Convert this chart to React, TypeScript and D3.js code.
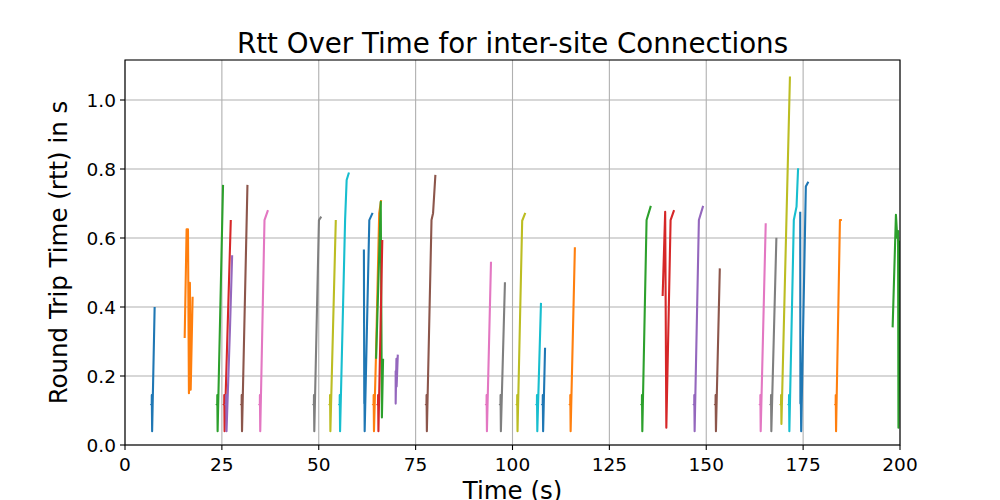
import React from "react";
import * as d3 from "d3";

const title = "Rtt Over Time for inter-site Connections";
const xLabel = "Time (s)";
const yLabel = "Round Trip Time (rtt) in s";
const xTicks = [0, 25, 50, 75, 100, 125, 150, 175, 200];
const yTicks = [0.0, 0.2, 0.4, 0.6, 0.8, 1.0];
const palette = ["#1f77b4", "#ff7f0e", "#2ca02c", "#d62728", "#9467bd", "#8c564b", "#e377c2", "#7f7f7f", "#bcbd22", "#17becf"];

// each connection: [time (s), rtt (s)] samples, in plotting order
const connections: number[][][] = [
  [[6.6, 0.115], [6.9, 0.118], [6.92, 0.145], [7.0, 0.04], [7.65, 0.4]],
  [[15.4, 0.31], [15.9, 0.625], [16.25, 0.625], [16.5, 0.15], [16.75, 0.47], [16.95, 0.16], [17.45, 0.43]],
  [[23.5, 0.115], [23.8, 0.118], [23.82, 0.145], [23.9, 0.04], [25.3, 0.754]],
  [[25.3, 0.115], [25.6, 0.118], [25.62, 0.145], [25.7, 0.04], [27.3, 0.652]],
  [[25.8, 0.115], [26.1, 0.118], [26.12, 0.145], [26.2, 0.04], [27.1, 0.34], [27.65, 0.55]],
  [[29.8, 0.115], [30.1, 0.118], [30.12, 0.145], [30.2, 0.04], [31.6, 0.754]],
  [[34.5, 0.115], [34.8, 0.118], [34.82, 0.145], [34.9, 0.04], [36.0, 0.652], [36.9, 0.681]],
  [[48.45, 0.115], [48.75, 0.118], [48.77, 0.145], [48.85, 0.04], [50.05, 0.652], [50.65, 0.662]],
  [[52.6, 0.115], [52.9, 0.118], [52.92, 0.145], [53.0, 0.04], [54.4, 0.652]],
  [[55.1, 0.115], [55.4, 0.118], [55.42, 0.145], [55.5, 0.04], [56.8, 0.652], [57.2, 0.768], [57.8, 0.79]],
  [[61.65, 0.567], [61.75, 0.12], [61.8, 0.145], [61.85, 0.04], [63.05, 0.652], [63.9, 0.673]],
  [[63.85, 0.115], [64.15, 0.118], [64.17, 0.145], [64.25, 0.04], [64.75, 0.25], [65.6, 0.672], [66.1, 0.71]],
  [[64.8, 0.25], [66.0, 0.705], [66.3, 0.08], [66.6, 0.25]],
  [[65.0, 0.115], [65.3, 0.118], [65.32, 0.145], [65.4, 0.04], [66.4, 0.594]],
  [[69.7, 0.215], [69.85, 0.215], [69.85, 0.12], [70.05, 0.25], [70.1, 0.17], [70.4, 0.262]],
  [[77.5, 0.115], [77.8, 0.118], [77.82, 0.145], [77.9, 0.04], [79.1, 0.652], [79.5, 0.672], [80.1, 0.783]],
  [[93.0, 0.115], [93.3, 0.118], [93.32, 0.145], [93.4, 0.04], [94.45, 0.531]],
  [[96.6, 0.115], [96.9, 0.118], [96.92, 0.145], [97.0, 0.04], [98.05, 0.472]],
  [[100.9, 0.115], [101.2, 0.118], [101.22, 0.145], [101.3, 0.04], [102.5, 0.65], [103.3, 0.673]],
  [[106.0, 0.115], [106.3, 0.118], [106.32, 0.145], [106.4, 0.04], [107.35, 0.412]],
  [[107.5, 0.115], [107.8, 0.118], [107.82, 0.145], [107.9, 0.04], [108.4, 0.282]],
  [[114.6, 0.115], [114.9, 0.118], [114.92, 0.145], [115.0, 0.04], [116.1, 0.573]],
  [[133.1, 0.115], [133.4, 0.118], [133.42, 0.145], [133.5, 0.04], [134.6, 0.652], [135.7, 0.693]],
  [[138.75, 0.432], [139.4, 0.676], [139.7, 0.05], [140.8, 0.652], [141.7, 0.681]],
  [[146.6, 0.115], [146.9, 0.118], [146.92, 0.145], [147.0, 0.04], [148.1, 0.652], [149.2, 0.693]],
  [[152.1, 0.115], [152.4, 0.118], [152.42, 0.145], [152.5, 0.04], [153.5, 0.512]],
  [[163.65, 0.115], [163.95, 0.118], [163.97, 0.145], [164.05, 0.04], [165.35, 0.643]],
  [[166.4, 0.115], [166.7, 0.118], [166.72, 0.145], [166.8, 0.04], [168.1, 0.601]],
  [[169.0, 0.115], [169.3, 0.118], [169.32, 0.145], [169.4, 0.061], [171.6, 1.068]],
  [[171.05, 0.115], [171.35, 0.118], [171.37, 0.145], [171.45, 0.04], [172.6, 0.652], [173.3, 0.691], [173.7, 0.802]],
  [[174.25, 0.676], [174.3, 0.12], [174.4, 0.145], [174.5, 0.04], [175.7, 0.749], [176.35, 0.763]],
  [[183.1, 0.115], [183.4, 0.118], [183.42, 0.145], [183.5, 0.04], [184.5, 0.652], [185.0, 0.652]],
  [[198.1, 0.341], [198.95, 0.667], [199.3, 0.6], [199.5, 0.62], [199.6, 0.05], [199.8, 0.25], [199.95, 0.59], [200.3, 0.58]],
];

const W = 1000;
const H = 500;
const left = 125;
const right = 900;
const top = 60;
const bottom = 445;
const font = "'DejaVu Sans', sans-serif";

export default function App() {
  const x = d3.scaleLinear().domain([0, 200]).range([left, right]);
  const y = d3.scaleLinear().domain([0, 1]).range([bottom, bottom - 345]);
  const line = d3
    .line<number[]>()
    .x((d) => x(d[0]))
    .y((d) => y(d[1]));

  return (
    <svg
      width={W}
      height={H}
      style={{ position: "absolute", left: 0, top: 0, background: "#fff" }}
      fontFamily={font}
    >
      <defs>
        <clipPath id="plotclip">
          <rect x={left} y={top} width={right - left} height={bottom - top} />
        </clipPath>
      </defs>
      <rect x={0} y={0} width={W} height={H} fill="#fff" />
      {xTicks.map((t) => (
        <line key={"gx" + t} x1={x(t)} x2={x(t)} y1={top} y2={bottom} stroke="#b0b0b0" strokeWidth={1.1} />
      ))}
      {yTicks.map((t) => (
        <line key={"gy" + t} x1={left} x2={right} y1={y(t)} y2={y(t)} stroke="#b0b0b0" strokeWidth={1.1} />
      ))}
      <g clipPath="url(#plotclip)">
        {connections.map((c, i) => (
          <path
            key={i}
            d={line(c) || ""}
            fill="none"
            stroke={palette[i % palette.length]}
            strokeWidth={2.1}
            strokeLinejoin="round"
            strokeLinecap="butt"
          />
        ))}
      </g>
      <rect x={left} y={top} width={right - left} height={bottom - top} fill="none" stroke="#000" strokeWidth={1.1} />
      {xTicks.map((t) => (
        <g key={"tx" + t}>
          <line x1={x(t)} x2={x(t)} y1={bottom} y2={bottom + 5} stroke="#000" strokeWidth={1.1} />
          <text x={x(t)} y={bottom + 26} textAnchor="middle" fontSize={18.5} fill="#000">
            {t}
          </text>
        </g>
      ))}
      {yTicks.map((t) => (
        <g key={"ty" + t}>
          <line x1={left - 5} x2={left} y1={y(t)} y2={y(t)} stroke="#000" strokeWidth={1.1} />
          <text x={left - 9} y={y(t)} dy="0.36em" textAnchor="end" fontSize={18.5} fill="#000">
            {t.toFixed(1)}
          </text>
        </g>
      ))}
      <text x={(left + right) / 2} y={53} textAnchor="middle" fontSize={27.7} fill="#000">
        {title}
      </text>
      <text x={(left + right) / 2} y={499} textAnchor="middle" fontSize={24.5} fill="#000">
        {xLabel}
      </text>
      <text
        transform={`translate(67, ${(top + bottom) / 2}) rotate(-90)`}
        textAnchor="middle"
        fontSize={24.5}
        fill="#000"
      >
        {yLabel}
      </text>
    </svg>
  );
}
